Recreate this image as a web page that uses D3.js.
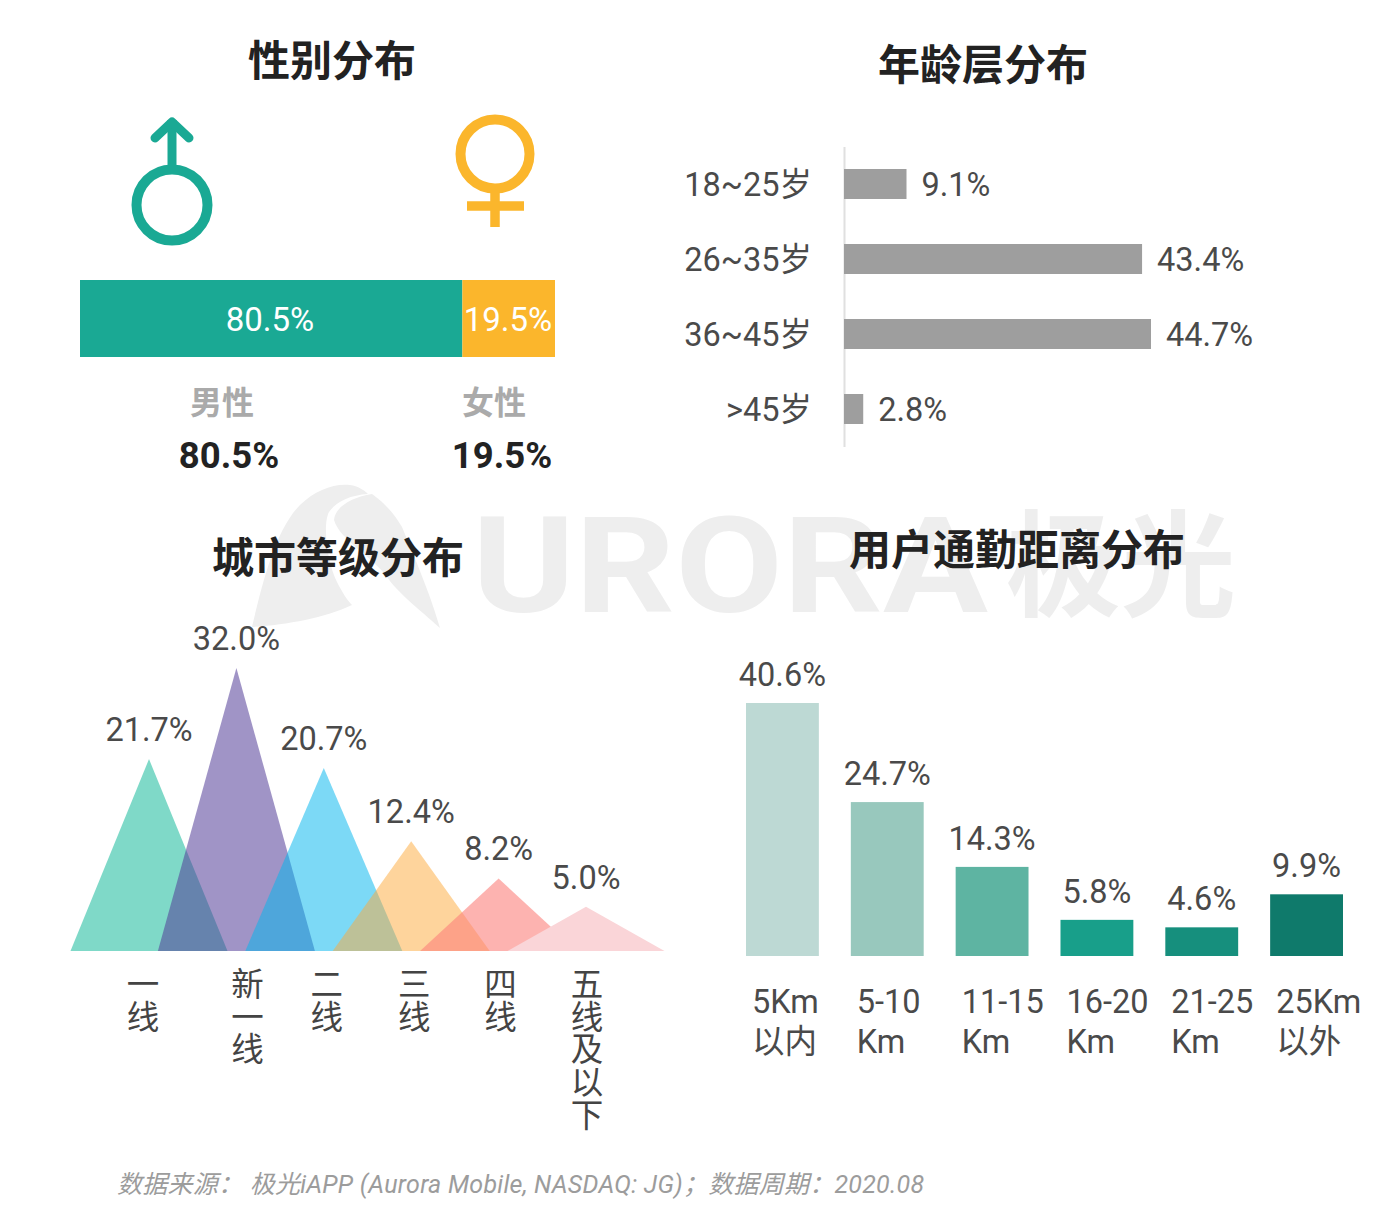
<!DOCTYPE html>
<html>
<head>
<meta charset="utf-8">
<script src="https://cdn.jsdelivr.net/npm/d3@7/dist/d3.min.js"></script>
<style>
  html, body { margin: 0; padding: 0; background: #fff; }
  svg { display: block; }
  text { font-family: Roboto, "Noto Sans CJK SC", sans-serif; }
  .title { font-family: "Noto Sans CJK SC", sans-serif; font-size: 42px; font-weight: 700; fill: #222; text-anchor: middle; }
  .val { font-size: 32.5px; fill: #4a4a4a; }
</style>
</head>
<body>
<div id="chart"></div>
<script>
// gender
var genderNames = ["男性", "女性"];
var genderValues = [80.5, 19.5];
var genderColors = ["#1aa994", "#fbb62c"];

// age
var ageGroups = ["18~25岁", "26~35岁", "36~45岁", ">45岁"];
var ageValues = [9.1, 43.4, 44.7, 2.8];

// city tier
var cityTiers = ["一线", "新一线", "二线", "三线", "四线", "五线及以下"];
var cityValues = [21.7, 32.0, 20.7, 12.4, 8.2, 5.0];
var cityColors = ["#7fd9c8", "#523c97", "#03b6ee", "#feaa39", "#fc807b", "#fad5d8"];
var cityOpacity = [1, 0.55, 0.52, 0.5, 0.6, 1];

// commute distance
var commuteNames = ["5Km 以内", "5-10 Km", "11-15 Km", "16-20 Km", "21-25 Km", "25Km 以外"];
var commuteValues = [40.6, 24.7, 14.3, 5.8, 4.6, 9.9];
var commuteColors = ["#bdd9d4", "#98c8bd", "#5eb4a2", "#189f8a", "#168f7d", "#0f7a6b"];

var svg = d3.select("#chart")
  .append("svg")
  .attr("width", 1400)
  .attr("height", 1222);

var fmt = function(d) { return d.toFixed(1) + "%"; };

// watermark goes first so the titles sit on top of it
var mark = svg.append("g").attr("fill", "#eeeeee");
mark.append("path")
  .attr("d", "M252,627 C262,585 275,530 300,505 C315,490 335,483 350,485 C358,486 364,490 368,494 C350,495 336,502 329,512 C322,525 328,565 337,582 C342,592 347,600 352,605 C325,618 285,625 252,627 Z");
mark.append("path")
  .attr("d", "M372,494 C385,503 395,515 402,527 C420,570 432,600 440,628 C420,610 397,592 387,577 C372,556 340,540 334,520 C335,507 352,497 372,494 Z");
mark.append("text")
  .attr("x", 472).attr("y", 612)
  .attr("font-size", 134).attr("font-weight", 700)
  .attr("textLength", 516)
  .attr("lengthAdjust", "spacingAndGlyphs")
  .text("URORA");
mark.append("text")
  .attr("x", 1006).attr("y", 607)
  .attr("font-size", 115).attr("font-weight", 700)
  .attr("font-family", "'Noto Sans CJK SC'")
  .text("极光");

// titles
svg.append("text").attr("class", "title").attr("x", 332).attr("y", 76).text("性别分布");
svg.append("text").attr("class", "title").attr("x", 983).attr("y", 80).text("年龄层分布");
svg.append("text").attr("class", "title").attr("x", 338).attr("y", 573).text("城市等级分布");
svg.append("text").attr("class", "title").attr("x", 1017).attr("y", 565).text("用户通勤距离分布");

// --- gender ---
var genderX = d3.scaleLinear().domain([0, 100]).range([80, 555]);
var starts = d3.cumsum([0].concat(genderValues));

svg.selectAll(".gender-bar")
  .data(genderValues)
  .enter()
  .append("rect")
  .attr("class", "gender-bar")
  .attr("x", (d, i) => genderX(starts[i]))
  .attr("y", 280)
  .attr("width", d => genderX(d) - genderX(0))
  .attr("height", 77)
  .attr("fill", (d, i) => genderColors[i]);

svg.selectAll(".gender-val")
  .data(genderValues)
  .enter()
  .append("text")
  .attr("class", "gender-val")
  .attr("x", (d, i) => i == 0 ? 270 : 508)
  .attr("y", 331)
  .attr("text-anchor", "middle")
  .attr("font-size", 33)
  .attr("fill", "#fff")
  .text(fmt);

svg.selectAll(".gender-name")
  .data(genderNames)
  .enter()
  .append("text")
  .attr("x", (d, i) => i == 0 ? 222 : 494)
  .attr("y", 414)
  .attr("text-anchor", "middle")
  .attr("font-family", "'Noto Sans CJK SC'")
  .attr("font-size", 32)
  .attr("font-weight", 700)
  .attr("fill", "#aaa")
  .text(d => d);

svg.selectAll(".gender-big")
  .data(genderValues)
  .enter()
  .append("text")
  .attr("x", (d, i) => i == 0 ? 229 : 502)
  .attr("y", 468)
  .attr("text-anchor", "middle")
  .attr("font-family", "'Noto Sans CJK SC'")
  .attr("font-size", 36.5)
  .attr("font-weight", 700)
  .attr("fill", "#222")
  .text(fmt);

// male icon
var male = svg.append("g").attr("fill", "none").attr("stroke", genderColors[0]);
male.append("circle").attr("cx", 172).attr("cy", 205).attr("r", 35.5).attr("stroke-width", 10);
male.append("path").attr("d", "M172,168 V120").attr("stroke-width", 9);
male.append("path").attr("d", "M155,138 L172,122 L189,138")
  .attr("stroke-width", 9).attr("stroke-linecap", "round").attr("stroke-linejoin", "round");

// female icon
var female = svg.append("g").attr("fill", "none").attr("stroke", genderColors[1]);
female.append("circle").attr("cx", 495).attr("cy", 154).attr("r", 34.5).attr("stroke-width", 10);
female.append("path").attr("d", "M495,190 V227 M467,206 H524").attr("stroke-width", 9.5);

// --- age ---
var ageX = d3.scaleLinear().domain([0, 44.7]).range([844, 1151]);
var ageY = d3.scaleBand().domain(ageGroups).range([146.5, 446.5]).paddingInner(0.6).paddingOuter(0.3);

var ageAxis = svg.append("g")
  .attr("transform", "translate(844,0)")
  .call(d3.axisLeft(ageY).tickSize(0).tickPadding(32));
ageAxis.select(".domain").attr("stroke", "#e0e0e0").attr("stroke-width", 2);
ageAxis.selectAll("text")
  .attr("font-size", 32.5)
  .attr("fill", "#4a4a4a")
  .attr("font-family", "Roboto, 'Noto Sans CJK SC'")
  .attr("y", 2);

svg.selectAll(".age-bar")
  .data(ageValues)
  .enter()
  .append("rect")
  .attr("class", "age-bar")
  .attr("x", ageX(0))
  .attr("y", (d, i) => ageY(ageGroups[i]))
  .attr("width", d => ageX(d) - ageX(0))
  .attr("height", ageY.bandwidth())
  .attr("fill", "#9e9e9e");

svg.selectAll(".age-val")
  .data(ageValues)
  .enter()
  .append("text")
  .attr("class", "val")
  .attr("x", d => ageX(d) + 15)
  .attr("y", (d, i) => ageY(ageGroups[i]) + 26.5)
  .text(fmt);

// --- city tier triangles ---
var cityX = d3.scalePoint().domain(cityTiers).range([149, 586]);
var cityY = d3.scaleLinear().domain([0, 32]).range([951, 668]);
var triHalf = 78.5;
var triLine = d3.line();

svg.selectAll(".tri")
  .data(cityValues)
  .enter()
  .append("path")
  .attr("class", "tri")
  .attr("d", function(d, i) {
    var cx = cityX(cityTiers[i]);
    return triLine([[cx - triHalf, cityY(0)], [cx, cityY(d)], [cx + triHalf, cityY(0)]]) + "Z";
  })
  .attr("fill", (d, i) => cityColors[i])
  .attr("fill-opacity", (d, i) => cityOpacity[i]);

svg.selectAll(".city-val")
  .data(cityValues)
  .enter()
  .append("text")
  .attr("class", "val")
  .attr("text-anchor", "middle")
  .attr("x", (d, i) => cityX(cityTiers[i]))
  .attr("y", d => cityY(d) - 18)
  .text(fmt);

// labels are stacked one character per row, not quite under the peaks
var cityLabelShift = [-6, 11, 3, 3, 2, 1];
cityTiers.forEach(function(name, i) {
  name.split("").forEach(function(ch, j) {
    svg.append("text")
      .attr("x", cityX(name) + cityLabelShift[i])
      .attr("y", 996 + j * 32.7)
      .attr("text-anchor", "middle")
      .attr("font-family", "'Noto Sans CJK SC'")
      .attr("font-size", 32.5)
      .attr("fill", "#444")
      .text(ch);
  });
});

// --- commute ---
var commuteX = d3.scaleBand().domain(commuteNames).range([746, 1343]).paddingInner(0.305).paddingOuter(0);
var commuteY = d3.scaleLinear().domain([0, 40.6]).range([956, 703]);

svg.selectAll(".commute-bar")
  .data(commuteValues)
  .enter()
  .append("rect")
  .attr("class", "commute-bar")
  .attr("x", (d, i) => commuteX(commuteNames[i]))
  .attr("y", d => commuteY(d))
  .attr("width", commuteX.bandwidth())
  .attr("height", d => commuteY(0) - commuteY(d))
  .attr("fill", (d, i) => commuteColors[i]);

svg.selectAll(".commute-val")
  .data(commuteValues)
  .enter()
  .append("text")
  .attr("class", "val")
  .attr("text-anchor", "middle")
  .attr("x", (d, i) => commuteX(commuteNames[i]) + commuteX.bandwidth() / 2)
  .attr("y", d => commuteY(d) - 17)
  .text(fmt);

commuteNames.forEach(function(name) {
  name.split(" ").forEach(function(part, j) {
    svg.append("text")
      .attr("class", "val")
      .attr("x", commuteX(name) + 6)
      .attr("y", 1013 + j * 40)
      .text(part);
  });
});

// source line
svg.append("text")
  .attr("x", 117)
  .attr("y", 1193)
  .attr("font-size", 25)
  .attr("font-style", "italic")
  .attr("fill", "#9c9c9c")
  .attr("textLength", 807)
  .text("数据来源： 极光iAPP (Aurora Mobile, NASDAQ: JG)；数据周期：2020.08");
</script>
</body>
</html>
